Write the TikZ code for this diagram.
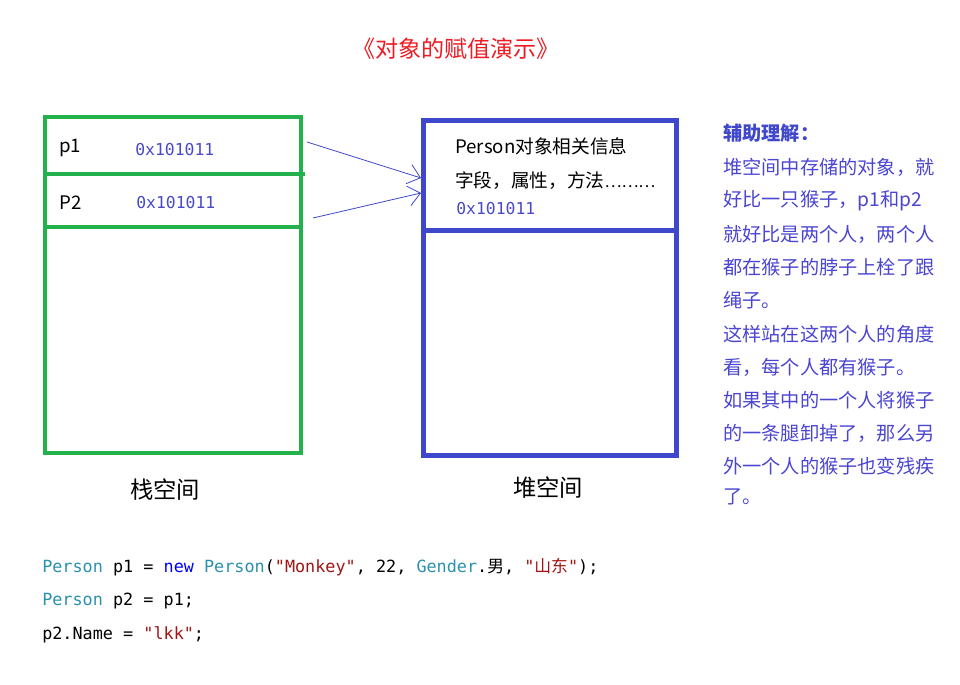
\documentclass[tikz,border=0pt]{standalone}
\usepackage{fontspec}
\setmainfont{Noto Sans CJK SC}
\newfontfamily\cjk{Noto Sans CJK SC}
\setmonofont{DejaVu Sans Mono}
\usetikzlibrary{arrows.meta}
\definecolor{stackgreen}{HTML}{22B14C}
\definecolor{heapblue}{HTML}{3F48CC}
\definecolor{hexblue}{HTML}{4A4AC8}
\definecolor{notecol}{HTML}{4B45D2}
\definecolor{titlered}{HTML}{ED1C24}
\definecolor{typecol}{HTML}{2B91AF}
\definecolor{kwcol}{HTML}{0000FF}
\definecolor{strcol}{HTML}{A31515}
\tikzset{
  stackbox/.style={draw=stackgreen, line width=3pt, inner sep=0pt},
  heapbox/.style={draw=heapblue, line width=3.75pt, inner sep=0pt},
  greenline/.style={draw=stackgreen, line width=3pt},
  blueline/.style={draw=heapblue, line width=3.75pt},
  label/.style={inner sep=0pt, font=\fontsize{14pt}{16pt}\selectfont},
  hex/.style={inner sep=0pt, text=hexblue, font=\ttfamily\fontsize{12.3pt}{14pt}\selectfont},
  big/.style={inner sep=0pt, font=\fontsize{17.5pt}{20pt}\selectfont},
  note/.style={inner sep=0pt, anchor=west, text=notecol, font=\fontsize{14.4pt}{16pt}\selectfont},
  code/.style={inner sep=0pt, anchor=west, font=\ttfamily\fontsize{12.6pt}{14pt}\selectfont},
  ptr/.style={draw=heapblue, line width=0.6pt, -{Straight Barb[length=9pt,width=15pt]}},
}
\begin{document}
\begin{tikzpicture}[x=0.75pt,y=-0.75pt]
\useasboundingbox[fill=white] (0,0) rectangle (960,685);

% title
\node[inner sep=0pt, text=titlered, font=\fontsize{17.3pt}{19pt}\selectfont] (title) at (456,49) {《对象的赋值演示》};

% stack
\node[stackbox, minimum width=192pt, minimum height=252pt] (stack) at (173,285) {};
\draw[greenline] (45,174) -- (305,174);
\draw[greenline] (45,227) -- (301,227);
\node[label, anchor=west] (p1lbl) at (59,148) {p1};
\node[hex, anchor=west] (p1hex) at (135,150) {0x101011};
\node[label, anchor=west] (p2lbl) at (59,203) {P2};
\node[hex, anchor=west] (p2hex) at (136,203) {0x101011};
\node[big] (stacklbl) at (165,490) {栈空间};

% heap
\node[heapbox, minimum width=189.75pt, minimum height=251.25pt] (heap) at (550,287.5) {};
\draw[blueline] (423.5,230) -- (676.5,230);
\node[label, anchor=west] (h1) at (455,146) {Person对象相关信息};
\node[label, anchor=west] (h2) at (455,181) {字段，属性，方法{\fontsize{12pt}{14pt}\selectfont ………}};
\node[hex, anchor=west] (h3) at (456,209) {0x101011};
\node[big] (heaplbl) at (548,488) {堆空间};

% pointers
\coordinate (a1s) at (307,142);
\coordinate (a1e) at (421,178);
\coordinate (a2s) at (313,218);
\coordinate (a2e) at (421,193);
\draw[ptr] (a1s) -- (a1e);
\draw[ptr] (a2s) -- (a2e);

% note
\node[note, font=\bfseries\fontsize{14.4pt}{16pt}\selectfont, text=heapblue] (n0) at (723,133) {辅助理解：};
\foreach \i/\t [count=\k] in {
  167.5/堆空间中存储的对象，就,
  200.5/好比一只猴子，p1和p2,
  234/就好比是两个人，两个人,
  267/都在猴子的脖子上栓了跟,
  300/绳子。,
  334/这样站在这两个人的角度,
  367/看，每个人都有猴子。,
  400/如果其中的一个人将猴子,
  433/的一条腿卸掉了，那么另,
  466/外一个人的猴子也变残疾,
  497/了。}
  \node[note] (n\k) at (723,\i) {\t};

% code
\node[code] (c1) at (42,567) {\textcolor{typecol}{Person} p1 = \textcolor{kwcol}{new} \textcolor{typecol}{Person}(\textcolor{strcol}{"Monkey"}, 22, \textcolor{typecol}{Gender}.{\cjk 男}, \textcolor{strcol}{"{\cjk 山东}"});};
\node[code] (c2) at (42,601) {\textcolor{typecol}{Person} p2 = p1;};
\node[code] (c3) at (42,635) {p2.Name = \textcolor{strcol}{"lkk"};};
\end{tikzpicture}
\end{document}
